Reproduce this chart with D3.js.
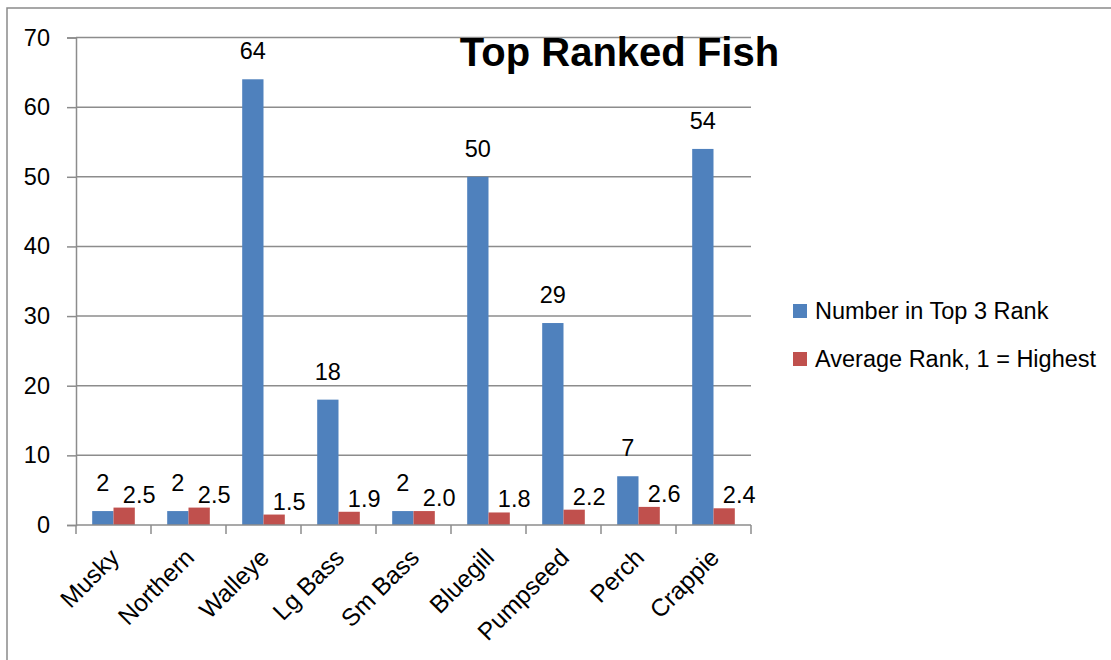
<!DOCTYPE html>
<html><head><meta charset="utf-8">
<script src="https://cdn.jsdelivr.net/npm/d3@7"></script>
<style>
html,body{margin:0;padding:0;background:#fff;}
text{font-family:"Liberation Sans",Arial,sans-serif;fill:#000;}
</style></head>
<body>
<svg id="chart" width="1111" height="660"></svg>
<script>
const categories = ["Musky","Northern","Walleye","Lg Bass","Sm Bass","Bluegill","Pumpseed","Perch","Crappie"];
const topThreeCounts = [2,2,64,18,2,50,29,7,54];
const averageRanks = [2.5,2.5,1.5,1.9,2.0,1.8,2.2,2.6,2.4];
const seriesNames = ["Number in Top 3 Rank","Average Rank, 1 = Highest"];
const yTicks = [0,10,20,30,40,50,60,70];
const chartTitle = "Top Ranked Fish";

const colors = ["#4F81BD","#C0504D"];
const gridColor = "#8c8c8c";
const fs = "23.5px";
const svg = d3.select("#chart");

// outer frame
svg.append("rect").attr("x",7).attr("y",8).attr("width",1200).attr("height",700)
  .attr("fill","none").attr("stroke","#8a8a8a").attr("stroke-width",1.5);

const plotL = 76, plotR = 751, plotT = 37.5, plotB = 525;
const x = d3.scaleBand().domain(categories).range([plotL, plotR]).padding(0);
const xs = d3.scaleBand().domain([0,1]).range([0, x.bandwidth()]).paddingInner(0).paddingOuter(0.76);
const y = d3.scaleLinear().domain([0,70]).range([plotB, plotT]);

// gridlines
svg.append("g").selectAll("line").data(yTicks.filter(d=>d>0)).join("line")
  .attr("x1",plotL).attr("x2",plotR).attr("y1",d=>y(d)).attr("y2",d=>y(d))
  .attr("stroke",gridColor).attr("stroke-width",1.5);

// y axis
const yAxis = d3.axisLeft(y).tickValues(yTicks).tickSize(9).tickPadding(17).tickFormat(d3.format("d"));
const gy = svg.append("g").attr("transform",`translate(${plotL},0)`).call(yAxis);
gy.select(".domain").attr("stroke",gridColor).attr("stroke-width",1.5);
gy.selectAll(".tick line").attr("stroke",gridColor).attr("stroke-width",1.5);
gy.selectAll(".tick text").style("font-size",fs).style("font-family","Liberation Sans, Arial, sans-serif").attr("fill","#000");

// bars
const data = categories.map((c,i)=>({cat:c, vals:[topThreeCounts[i], averageRanks[i]]}));
const groups = svg.append("g").selectAll("g").data(data).join("g")
  .attr("transform",d=>`translate(${x(d.cat)},0)`);
groups.selectAll("rect").data(d=>d.vals.map((v,k)=>({v,k}))).join("rect")
  .attr("x",d=>xs(d.k)).attr("width",xs.bandwidth())
  .attr("y",d=>y(d.v)).attr("height",d=>plotB-y(d.v))
  .attr("fill",d=>colors[d.k]);

// x axis
const xTickPos = categories.map(c=>x(c)).concat([plotR]);
svg.append("line").attr("x1",plotL).attr("x2",plotR).attr("y1",plotB).attr("y2",plotB)
  .attr("stroke",gridColor).attr("stroke-width",1.5);
svg.append("g").selectAll("line").data(xTickPos).join("line")
  .attr("x1",d=>d).attr("x2",d=>d).attr("y1",plotB).attr("y2",plotB+9)
  .attr("stroke",gridColor).attr("stroke-width",1.5);
svg.append("g").selectAll("text").data(categories).join("text")
  .attr("transform",c=>`translate(${x(c)+x.bandwidth()/2+1},${plotB+28}) rotate(-45)`)
  .attr("text-anchor","end").attr("dy","0.35em")
  .style("font-size","24.5px").text(c=>c);

// data labels
groups.each(function(d){
  const g = d3.select(this);
  g.append("text").attr("x",xs(0)+xs.bandwidth()/2).attr("y",y(d.vals[0])-20)
    .attr("text-anchor","middle").style("font-size",fs).text(d3.format("d")(d.vals[0]));
  g.append("text").attr("x",xs(1)+xs.bandwidth()/2+15).attr("y",y(d.vals[1])-5)
    .attr("text-anchor","middle").style("font-size",fs).text(d3.format(".1f")(d.vals[1]));
});

// title
svg.append("text").attr("x",619.5).attr("y",66).attr("text-anchor","middle")
  .style("font-size","40px").style("font-weight","bold").text(chartTitle);

// legend
const legend = svg.append("g").selectAll("g").data(seriesNames).join("g")
  .attr("transform",(d,i)=>`translate(793,${304+i*48})`);
legend.append("rect").attr("width",14).attr("height",14).attr("fill",(d,i)=>colors[i]);
legend.append("text").attr("x",22).attr("y",15).style("font-size",fs).text(d=>d);
</script>
</body></html>
